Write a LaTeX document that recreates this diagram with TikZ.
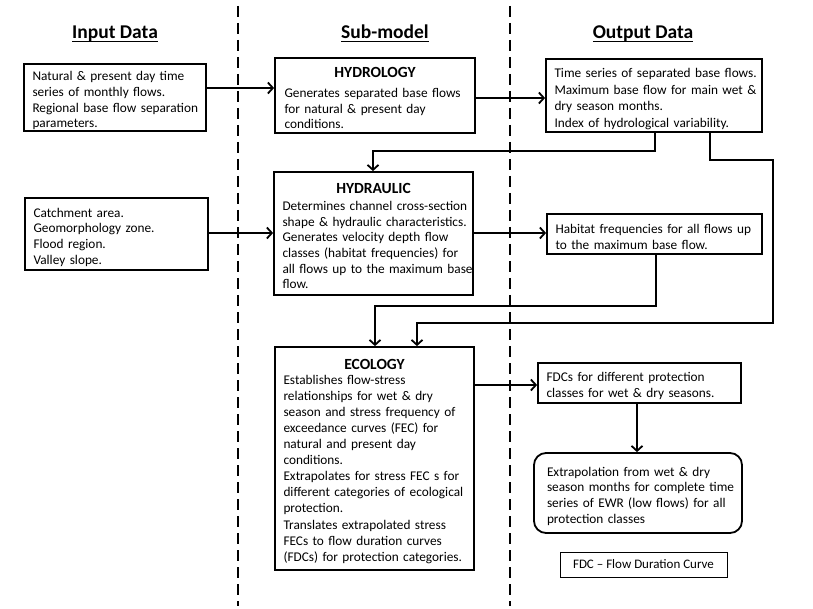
\documentclass[tikz,border=0pt]{standalone}
\usepackage{fontspec}
\setmainfont{Carlito}
\usetikzlibrary{arrows.meta}
\newcommand{\ttl}[2][2.5pt]{\par\noindent\hbox to\hsize{\hss\fontsize{15.5}{18}\selectfont\bfseries #2\hss}\par\vskip#1}
\newcommand{\lne}[1]{\par\noindent\hbox{#1}\par}
\newcommand{\ulx}[1]{\setbox0\hbox{#1}\rlap{\rule[-3.6pt]{\wd0}{1.4pt}}\box0}
\begin{document}
\begin{tikzpicture}[x=1pt,y=-1pt,
  bx/.style={draw, line width=1.8pt, inner xsep=8.5pt, inner ysep=0pt,
    font=\fontsize{13.3}{15.6}\selectfont, anchor=center},
  hdr/.style={font=\fontsize{19.5}{22}\selectfont\bfseries, inner sep=0pt, anchor=base},
  arr/.style={line width=2pt, -{Straight Barb[length=5pt,width=11pt,line width=1.8pt]}},
  sepline/.style={line width=1.8pt, dash pattern=on 11pt off 6pt},
]
\useasboundingbox (0,0) rectangle (813,609);
\fill[white] (0,0) rectangle (813,609);

% separators
\draw[sepline] (238,6) -- (238,606);
\draw[sepline] (510,6) -- (510,606);

% headers
\node[hdr] (h1) at (115,38.5) {\ulx{Input Data}};
\node[hdr] (h2) at (385,38.5) {\ulx{Sub-model}};
\node[hdr] (h3) at (643,38.5) {\ulx{Output Data}};

% input boxes
\node[bx, text width=165pt, minimum height=67pt] (in1) at (115,97.5)
  {\lne{Natural \& present day time}\lne{series of monthly flows.}\lne{Regional base flow separation}\lne{parameters.}};
\node[bx, text width=166pt, minimum height=72pt] (in2) at (116.5,234)
  {\lne{Catchment area.}\lne{Geomorphology zone.}\lne{Flood region.}\lne{Valley slope.}};

% sub-model boxes
\node[bx, text width=181pt, inner xsep=9.5pt, minimum height=75pt] (hydro) at (375,95.5)
  {\ttl[4.5pt]{HYDROLOGY}\lne{Generates separated base flows}\lne{for natural \& present day}\lne{conditions.}};
\node[bx, text width=182pt, minimum height=123pt] (hyd) at (373.5,233.5)
  {\ttl[1.5pt]{HYDRAULIC}\lne{Determines channel cross-section}\lne{shape \& hydraulic characteristics.}\lne{Generates velocity depth flow}\lne{classes (habitat frequencies) for}\lne{all flows up to the maximum base}\lne{flow.}};
\node[bx, text width=182pt, minimum height=223pt, font=\fontsize{13.3}{16.1}\selectfont] (eco) at (374.5,458.5)
  {\ttl[-1.5pt]{ECOLOGY}\lne{Establishes flow-stress}\lne{relationships for wet \& dry}\lne{season and stress frequency of}\lne{exceedance curves (FEC) for}\lne{natural and present day}\lne{conditions.}\lne{Extrapolates for stress FEC s for}\lne{different categories of ecological}\lne{protection.}\lne{Translates extrapolated stress}\lne{FECs to flow duration curves}\lne{(FDCs) for protection categories.}};

% output boxes
\node[bx, text width=199pt, minimum height=73pt, font=\fontsize{13.3}{16.4}\selectfont] (out1) at (654,95.5)
  {\lne{Time series of separated base flows.}\lne{Maximum base flow for main wet \&}\lne{dry season months.}\lne{Index of hydrological variability.}};
\node[bx, text width=198pt, minimum height=40pt] (hab) at (654.5,234)
  {\lne{Habitat frequencies for all flows up}\lne{to the maximum base flow.}};
\node[bx, text width=186pt, minimum height=40pt] (fdc) at (639.5,383)
  {\lne{FDCs for different protection}\lne{classes for wet \& dry seasons.}};
\node[bx, text width=182pt, inner xsep=13pt, minimum height=80pt, rounded corners=12pt] (ext) at (638,493)
  {\lne{Extrapolation from wet \& dry}\lne{season months for complete time}\lne{series of EWR (low flows) for all}\lne{protection classes}};
\node[draw, line width=0.8pt, minimum width=167pt, minimum height=25pt, inner sep=0pt,
  font=\fontsize{13}{15}\selectfont] (leg) at (643.5,564.5) {FDC -- Flow Duration Curve};

% connectors
\draw[arr] (in1.east |- 0,88) -- (hydro.west |- 0,88);
\draw[arr] (hydro.east |- 0,98) -- (out1.west |- 0,98);
\draw[arr] (out1.south -| 655,0) -- ++(0,18) -| (hyd.north -| 373,0);
\draw[arr] (out1.south -| 710,0) |- (773,160) |- (417,323) -- (eco.north -| 417,0);
\draw[arr] (in2.east |- 0,233) -- (hyd.west |- 0,233);
\draw[arr] (hyd.east |- 0,233) -- (hab.west |- 0,233);
\draw[arr] (hab.south -| 656,0) |- (375,306) -- (eco.north -| 375,0);
\draw[arr] (eco.east |- 0,385) -- (fdc.west |- 0,385);
\draw[arr] (fdc.south -| 637,0) -- (ext.north -| 637,0);
\end{tikzpicture}
\end{document}
